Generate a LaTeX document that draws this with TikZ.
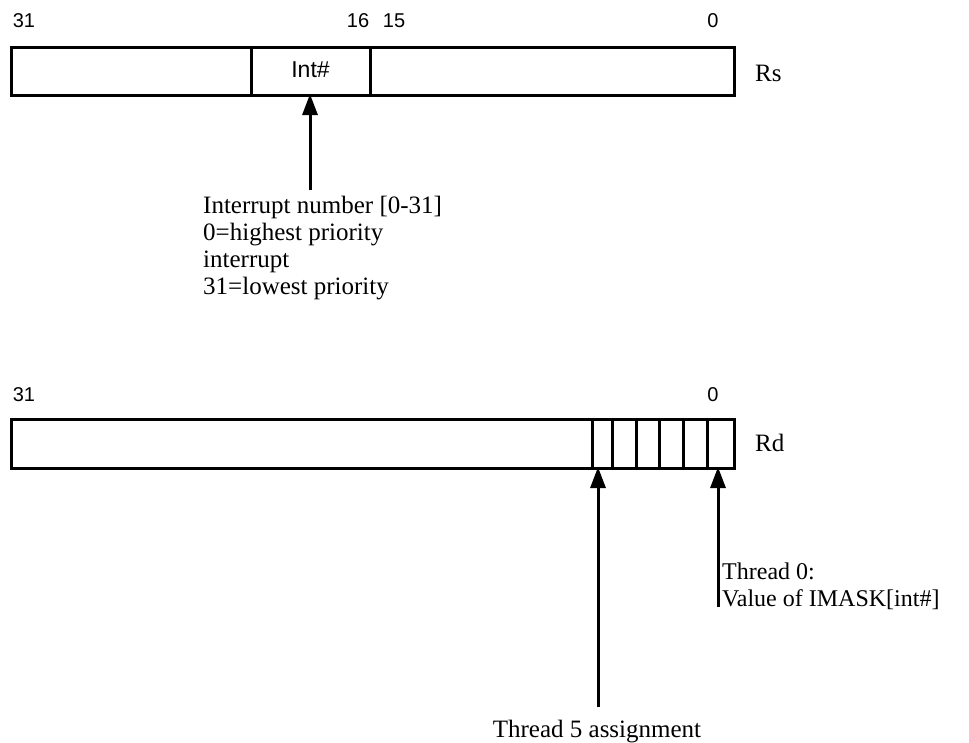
\documentclass[tikz,border=0pt]{standalone}
\usepackage{fontspec}
\setmainfont{Liberation Serif}
\newfontfamily\arialfont{Liberation Sans}
\usetikzlibrary{arrows.meta}
\begin{document}
\begin{tikzpicture}[x=1pt,y=-1pt,
  reg/.style={draw,line width=3pt},
  sep/.style={draw,line width=3pt},
  bitlbl/.style={font=\arialfont\fontsize{20}{24}\selectfont,inner sep=0pt},
  txt/.style={font=\fontsize{25}{27}\selectfont,inner sep=0pt,align=left},
  ptr/.style={line width=3pt,-{Triangle[length=21pt,width=15pt]}}]
\useasboundingbox (0,0) rectangle (969,742);
% ---------- Rs ----------
\node[reg,minimum width=723pt,minimum height=48pt,anchor=north west,inner sep=0pt] (rs) at (10,46) {};
\draw[sep] (251,46) -- (251,94);
\draw[sep] (370,46) -- (370,94);
\node[bitlbl,font=\arialfont\fontsize{23}{26}\selectfont] (int) at (310.5,70) {Int\#};
\node[bitlbl] (b31a) at (24,21) {31};
\node[bitlbl] (b16) at (358,21) {16};
\node[bitlbl] (b15) at (394,21) {15};
\node[bitlbl] (b0a) at (713,21) {0};
\node[txt,anchor=west] (rsl) at (755,73) {Rs};
\coordinate (tipA) at (310,94);
\node[txt,anchor=north west] (intxt) at (203,196)
  {Interrupt number [0-31]\\0=highest priority\\interrupt\\31=lowest priority};
\coordinate (tailA) at (310,190);
\draw[ptr] (tailA) -- (tipA);
% ---------- Rd ----------
\node[reg,minimum width=723pt,minimum height=49pt,anchor=north west,inner sep=0pt] (rd) at (10,418) {};
\foreach \x in {592,612,636,659,683,707} \draw[sep] (\x,418) -- (\x,467);
\node[bitlbl] (b31b) at (24,395) {31};
\node[bitlbl] (b0b) at (713,395) {0};
\node[txt,anchor=west] (rdl) at (755,443) {Rd};
\coordinate (tipB) at (718,467);
\coordinate (tailB) at (718,607);
\draw[ptr] (tailB) -- (tipB);
\node[txt,anchor=north west,font=\fontsize{24}{27}\selectfont] (t0txt) at (722,562.5) {Thread 0:\\Value of IMASK[int\#]};
\coordinate (tipC) at (598,467);
\coordinate (tailC) at (598,707);
\draw[ptr] (tailC) -- (tipC);
\node[txt,anchor=base] (t5txt) at (597,737) {Thread 5 assignment};
\end{tikzpicture}
\end{document}
